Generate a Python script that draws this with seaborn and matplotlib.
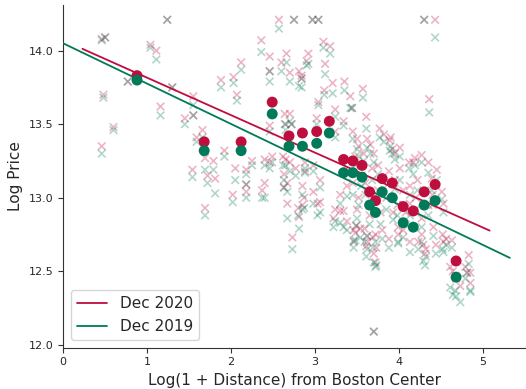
import numpy as np
import pandas as pd
import matplotlib
matplotlib.use("Agg")
import matplotlib.pyplot as plt
from matplotlib.lines import Line2D
import seaborn as sns

# Per-property observations: log(1 + distance), log price Dec 2020, log price Dec 2019
log_distance = [
    0.46, 0.50, 0.46, 0.48, 0.60, 0.77, 1.04, 1.11, 1.16, 1.24, 1.30, 1.45, 1.55, 1.55,
    1.66, 1.59, 1.69, 1.79, 1.81, 1.72, 1.54, 1.69, 1.92, 1.88, 2.03, 2.07, 2.12, 2.05,
    2.18, 2.25, 2.18, 2.02, 2.18, 2.36, 2.40, 2.40, 2.37,
    2.57, 2.75, 2.97, 3.04, 2.46, 2.66, 2.60, 2.46, 2.70, 2.81, 2.84, 2.90, 2.92, 3.10,
    3.18, 3.12, 3.21, 3.35, 3.42, 3.11, 3.04, 2.70, 2.64, 3.24, 3.02, 3.57, 3.44, 3.61,
    4.43, 4.30, 4.36, 2.84, 2.46, 2.65, 2.72,
    2.49, 2.65, 2.63, 2.63, 2.67, 2.67, 2.73, 2.81, 2.85, 2.85, 2.80, 2.98, 3.06, 3.06,
    3.03, 2.88, 2.98, 2.88, 2.77, 3.24, 3.34, 3.30, 3.38, 3.24, 3.34, 3.38, 3.46, 3.49,
    3.50, 3.54, 2.87, 3.22, 3.30, 2.46, 2.62, 2.70,
    3.59, 3.69, 3.61, 3.72, 3.73, 3.70, 3.62, 3.62, 3.46, 3.48, 3.70, 3.72, 3.93, 3.99,
    4.05, 3.99, 4.13, 4.29, 4.32, 4.31, 4.23, 4.27, 4.44, 4.52, 4.56, 4.53, 4.61, 4.64,
    4.67, 4.73, 4.79, 4.81, 4.83, 4.85, 4.85, 4.68, 4.63, 3.82, 3.90, 3.92, 3.66, 4.27,
    4.35, 4.17, 4.13, 4.39, 4.51, 4.53, 3.58, 4.01, 4.13, 4.27, 4.41, 3.98, 3.77, 3.89,
    3.95, 4.01, 4.12, 4.19, 4.45, 3.50, 3.55, 3.60, 3.68, 3.75, 3.78, 3.85, 3.88, 3.95,
    4.05, 4.08, 4.20, 4.22, 4.35, 4.40, 3.45, 3.52, 3.65, 3.80, 3.88, 3.45, 3.52, 3.48,
    3.62, 3.70, 3.75,
]
log_price_2020 = [
    14.08, 14.09, 13.35, 13.70, 13.48, 13.79, 14.04, 14.00, 13.62, 14.21, 13.75, 13.54, 13.69, 13.56,
    13.46, 13.41, 13.27, 13.25, 13.13, 13.15, 13.19, 12.93, 13.32, 13.80, 13.82, 13.70, 13.92, 13.20,
    13.19, 13.25, 13.09, 13.02, 13.04, 14.07, 13.10, 13.26, 13.05,
    14.21, 14.21, 14.21, 14.21, 13.96, 13.98, 13.92, 13.86, 13.85, 13.86, 13.81, 13.93, 13.98, 14.06,
    14.03, 13.91, 13.78, 13.79, 13.69, 13.73, 13.65, 13.57, 13.57, 13.60, 13.54, 13.74, 13.61, 13.55,
    14.21, 14.21, 13.67, 13.83, 13.49, 13.50, 13.50,
    13.28, 13.26, 13.16, 13.07, 13.10, 12.96, 12.73, 12.87, 13.08, 12.95, 12.93, 13.04, 13.12, 12.97,
    12.96, 13.18, 13.22, 13.24, 13.20, 12.92, 12.91, 13.02, 13.08, 13.45, 13.52, 12.84, 12.78, 12.81,
    12.92, 12.79, 13.00, 12.86, 12.91, 13.24, 13.28, 13.24,
    12.79, 12.73, 12.67, 12.56, 12.66, 12.09, 12.74, 12.70, 12.70, 12.76, 12.62, 12.75, 12.90, 12.80,
    12.78, 12.75, 12.70, 12.68, 12.65, 12.62, 12.70, 12.75, 12.68, 12.75, 12.72, 12.70, 12.53, 12.50,
    12.47, 12.40, 12.53, 12.49, 12.61, 12.42, 12.49, 12.45, 12.71, 13.43, 13.41, 13.33, 13.36, 13.29,
    13.24, 13.24, 13.08, 13.13, 13.04, 12.96, 13.30, 13.20, 12.96, 12.86, 12.80, 12.95, 13.47, 13.39,
    13.30, 13.34, 13.24, 13.27, 13.19, 13.40, 13.15, 13.10, 13.20, 13.05, 12.90, 13.00, 13.18, 13.12,
    13.05, 12.90, 13.00, 13.12, 12.95, 13.02, 13.10, 13.00, 12.88, 12.78, 12.72, 13.45, 13.35, 13.28,
    13.40, 13.30, 13.22,
]
log_price_2019 = [
    14.07, 14.09, 13.30, 13.68, 13.46, 13.79, 14.02, 13.94, 13.56, 14.21, 13.75, 13.50, 13.63, 13.56,
    13.41, 13.38, 13.19, 13.19, 13.03, 13.10, 13.14, 12.88, 13.28, 13.75, 13.78, 13.66, 13.87, 13.12,
    13.16, 13.22, 13.09, 12.97, 13.00, 13.99, 13.00, 13.22, 13.00,
    14.15, 14.21, 14.21, 14.21, 13.86, 13.92, 13.86, 13.79, 13.79, 13.76, 13.81, 13.90, 13.91, 14.02,
    13.98, 13.84, 13.71, 13.73, 13.61, 13.70, 13.63, 13.52, 13.50, 13.55, 13.50, 13.68, 13.61, 13.47,
    14.09, 14.21, 13.58, 13.75, 13.45, 13.46, 13.50,
    13.24, 13.22, 13.12, 13.07, 13.04, 12.86, 12.65, 12.79, 13.02, 12.92, 12.88, 12.96, 13.07, 12.90,
    12.88, 13.17, 13.18, 13.20, 13.15, 12.84, 12.80, 12.96, 13.01, 13.41, 13.49, 12.78, 12.71, 12.81,
    12.86, 12.73, 12.93, 12.80, 12.83, 13.20, 13.22, 13.18,
    12.70, 12.66, 12.60, 12.53, 12.54, 12.09, 12.74, 12.65, 12.66, 12.71, 12.56, 12.70, 12.85, 12.70,
    12.73, 12.69, 12.63, 12.57, 12.60, 12.54, 12.65, 12.70, 12.62, 12.65, 12.68, 12.63, 12.39, 12.34,
    12.37, 12.29, 12.45, 12.49, 12.55, 12.36, 12.37, 12.33, 12.66, 13.38, 13.35, 13.30, 13.30, 13.24,
    13.17, 13.16, 13.02, 13.05, 12.99, 12.90, 13.25, 13.12, 12.88, 12.80, 12.74, 12.88, 13.41, 13.32,
    13.26, 13.28, 13.20, 13.22, 13.12, 13.33, 13.08, 13.02, 13.12, 12.98, 12.82, 12.92, 13.10, 13.06,
    12.95, 12.82, 12.92, 13.05, 12.88, 12.95, 13.02, 12.95, 12.82, 12.72, 12.66, 13.40, 13.28, 13.22,
    13.34, 13.24, 13.16,
]

# Binned means of log price by distance bin
bin_centers = [0.88, 1.68, 2.12, 2.49, 2.69, 2.85, 3.02, 3.17, 3.34, 3.45, 3.56, 3.65,
               3.72, 3.80, 3.92, 4.05, 4.17, 4.30, 4.43, 4.68]
bin_mean_2020 = [13.83, 13.38, 13.38, 13.65, 13.42, 13.44, 13.45, 13.52, 13.26, 13.25, 13.22,
                 13.04, 12.98, 13.13, 13.10, 12.94, 12.91, 13.04, 13.09, 12.57]
bin_mean_2019 = [13.80, 13.32, 13.32, 13.57, 13.35, 13.35, 13.37, 13.44, 13.17, 13.17, 13.14,
                 12.95, 12.90, 13.04, 13.00, 12.83, 12.80, 12.95, 12.98, 12.46]

# Linear fits: intercept, slope and the distance range each fit spans
fit_2020 = {"intercept": 14.071, "slope": -0.2548, "x_range": [0.23, 5.08]}
fit_2019 = {"intercept": 14.050, "slope": -0.2742, "x_range": [-0.20, 5.32]}

labels = ["Dec 2020", "Dec 2019"]
red = "#BF0D3E"
green = "#007A58"

points = pd.DataFrame({
    "dist": log_distance * 2,
    "price": log_price_2020 + log_price_2019,
    "period": [labels[0]] * len(log_distance) + [labels[1]] * len(log_distance),
})
bins = pd.DataFrame({
    "dist": bin_centers * 2,
    "price": bin_mean_2020 + bin_mean_2019,
    "period": [labels[0]] * len(bin_centers) + [labels[1]] * len(bin_centers),
})
lines = []
for lab, fit in zip(labels, [fit_2020, fit_2019]):
    xs = np.array(fit["x_range"])
    lines.append(pd.DataFrame({"dist": xs, "price": fit["intercept"] + fit["slope"] * xs,
                               "period": lab}))
lines = pd.concat(lines, ignore_index=True)

sns.set_style("ticks")
palette = {labels[0]: red, labels[1]: green}

fig = plt.figure(figsize=(5.26, 3.89), dpi=100)
ax = fig.add_axes([0.12, 0.106, 0.878, 0.881])

sns.scatterplot(data=points, x="dist", y="price", hue="period", palette=palette,
                marker="x", s=30, linewidth=1.2, alpha=0.3, legend=False, ax=ax)
sns.scatterplot(data=bins, x="dist", y="price", hue="period", palette=palette,
                marker="o", s=62, linewidth=0, alpha=1.0, legend=False, ax=ax, zorder=4)
sns.lineplot(data=lines, x="dist", y="price", hue="period", palette=palette,
             linewidth=1.3, legend=False, ax=ax, zorder=3, estimator=None, sort=False)

ax.set_xlim(0, 5.5)
ax.set_ylim(11.98, 14.31)
ax.set_xticks([0, 1, 2, 3, 4, 5])
ax.set_yticks([12.0, 12.5, 13.0, 13.5, 14.0])
ax.set_xticklabels(["0", "1", "2", "3", "4", "5"])
ax.set_yticklabels(["12.0", "12.5", "13.0", "13.5", "14.0"])
ax.tick_params(labelsize=8, length=3.5, color="#333333")
ax.set_xlabel("Log(1 + Distance) from Boston Center", fontsize=11)
ax.set_ylabel("Log Price", fontsize=11)
for side in ["left", "bottom"]:
    ax.spines[side].set_color("#333333")
sns.despine(ax=ax)

handles = [Line2D([0], [0], color=red, lw=1.3), Line2D([0], [0], color=green, lw=1.3)]
ax.legend(handles, labels, loc="lower left", fontsize=11, frameon=True,
          bbox_to_anchor=(0.0, 0.0))

fig.savefig("out.png", dpi=100)
